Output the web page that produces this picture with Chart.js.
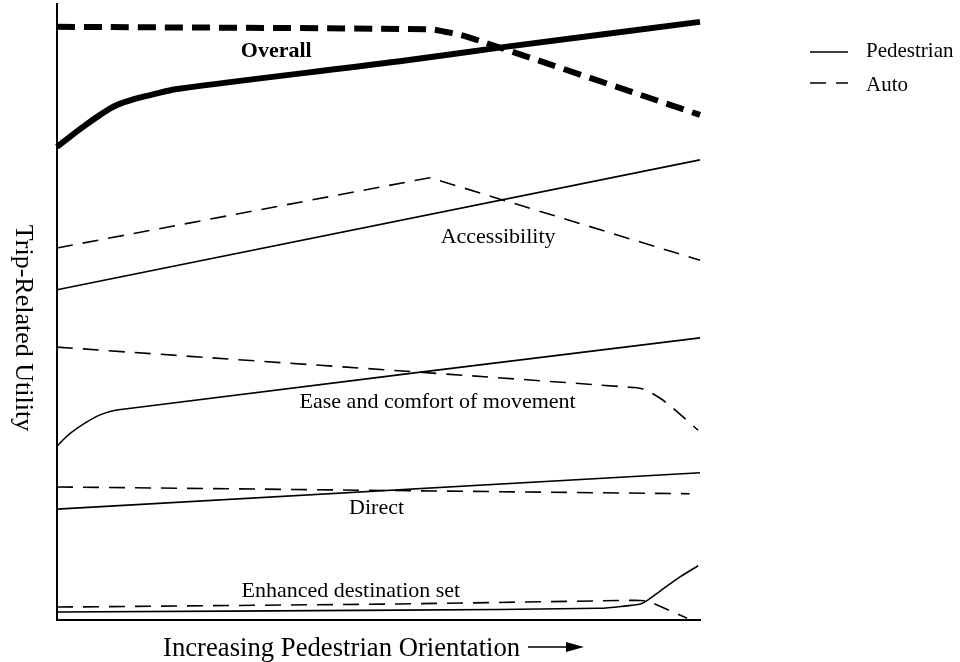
<!DOCTYPE html>
<html>
<head>
<meta charset="utf-8">
<script src="https://cdn.jsdelivr.net/npm/chart.js@4"></script>
<style>
  html, body { margin: 0; padding: 0; background: #fff; }
  #wrap { width: 960px; height: 662px; }
</style>
</head>
<body>
<div id="wrap"><canvas id="c" width="960" height="662"></canvas></div>
<script>
// ---- Data (x: pedestrian orientation 0-100, y: trip-related utility 0-100) ----
const overallPedX = [0, 1.6, 4.0, 6.7, 9.3, 12.1, 14.5, 18.7, 53.3, 69.4, 100];
const overallPedY = [76.8, 78.1, 80.0, 82.0, 83.6, 84.6, 85.2, 86.2, 90.7, 93.0, 97.1];
const overallAutoX = [0, 58.0, 60.3, 62.7, 65.8, 100];
const overallAutoY = [96.3, 95.9, 95.5, 95.0, 94.0, 82.0];

const accessPedX = [0, 100];
const accessPedY = [53.6, 74.7];
const accessAutoX = [0, 58.0, 100];
const accessAutoY = [60.4, 71.8, 58.4];

const easePedX = [0, 1.2, 2.3, 4.4, 6.7, 9.3, 100];
const easePedY = [28.2, 29.5, 30.5, 32.0, 33.3, 34.1, 45.8];
const easeAutoX = [0, 90.2, 91.8, 93.8, 95.8, 99.7];
const easeAutoY = [44.3, 37.7, 37.2, 36.0, 34.4, 30.8];

const directPedX = [0, 100];
const directPedY = [18.0, 23.9];
const directAutoX = [0, 98.4];
const directAutoY = [21.6, 20.5];

const enhPedX = [0, 53.3, 84.4, 88.6, 90.7, 91.7, 93.8, 96.9, 99.7];
const enhPedY = [1.3, 1.6, 1.9, 2.3, 2.6, 3.1, 4.7, 7.0, 8.8];
const enhAutoX = [0, 53.3, 89.9, 91.9, 98.0];
const enhAutoY = [2.1, 2.6, 3.2, 3.1, 0.3];

const groupNames = ['Overall', 'Accessibility', 'Ease and comfort of movement', 'Direct', 'Enhanced destination set'];
const legendNames = ['Pedestrian', 'Auto'];
const xTitle = 'Increasing Pedestrian Orientation';
const yTitle = 'Trip-Related Utility';

// ---- Build ----
function pts(xs, ys) { return xs.map((x, i) => ({ x: x, y: ys[i] })); }

const SERIF = '"Liberation Serif", "Times New Roman", Times, serif';
const thin = 1.6, thick = 6;
const thinDash = [16, 10], thickDash = [18, 9];

function ds(label, xs, ys, width, dash, tension) {
  return {
    label: label,
    data: pts(xs, ys),
    borderColor: '#000',
    backgroundColor: '#000',
    borderWidth: width,
    borderDash: dash || [],
    borderCapStyle: 'butt',
    borderJoinStyle: 'round',
    pointRadius: 0,
    pointHoverRadius: 0,
    fill: false,
    clip: false,
    tension: tension || 0
  };
}

const datasets = [
  ds('Overall Pedestrian', overallPedX, overallPedY, thick, null, 0.35),
  ds('Overall Auto', overallAutoX, overallAutoY, thick, thickDash, 0.3),
  ds('Accessibility Pedestrian', accessPedX, accessPedY, thin, null),
  ds('Accessibility Auto', accessAutoX, accessAutoY, thin, thinDash),
  ds('Ease Pedestrian', easePedX, easePedY, thin, null, 0.3),
  ds('Ease Auto', easeAutoX, easeAutoY, thin, thinDash, 0.3),
  ds('Direct Pedestrian', directPedX, directPedY, thin, null),
  ds('Direct Auto', directAutoX, directAutoY, thin, thinDash),
  ds('Enhanced Pedestrian', enhPedX, enhPedY, thin, null, 0.3),
  ds('Enhanced Auto', enhAutoX, enhAutoY, thin, thinDash)
];

// label anchor positions (data coordinates) – layout, not data
const labelAnchors = [
  { x: 34.1, y: 91.4, bold: true },
  { x: 68.6, y: 61.2 },
  { x: 59.2, y: 34.4 },
  { x: 49.7, y: 17.2 },
  { x: 45.7, y: 3.7 }
];

const decorPlugin = {
  id: 'decor',
  afterDatasetsDraw(chart) {
    const ctx = chart.ctx;
    const xs = chart.scales.x, ys = chart.scales.y;
    ctx.save();
    ctx.fillStyle = '#000';
    ctx.strokeStyle = '#000';
    // group labels
    ctx.textAlign = 'center';
    ctx.textBaseline = 'alphabetic';
    groupNames.forEach((name, i) => {
      const a = labelAnchors[i];
      ctx.font = (a.bold ? 'bold ' : '') + '22px ' + SERIF;
      ctx.fillText(name, xs.getPixelForValue(a.x), ys.getPixelForValue(a.y));
    });
    // legend
    ctx.font = '21px ' + SERIF;
    ctx.textAlign = 'left';
    ctx.lineWidth = 1.6;
    ctx.setLineDash([]);
    ctx.beginPath(); ctx.moveTo(810, 52); ctx.lineTo(848, 52); ctx.stroke();
    ctx.fillText(legendNames[0], 866, 57);
    ctx.beginPath(); ctx.moveTo(810, 83); ctx.lineTo(826, 83); ctx.moveTo(836, 83); ctx.lineTo(848, 83); ctx.stroke();
    ctx.fillText(legendNames[1], 866, 91);
    // x title with arrow
    ctx.font = '26.7px ' + SERIF;
    ctx.textAlign = 'left';
    ctx.fillText(xTitle, 163, 656);
    ctx.lineWidth = 1.6;
    ctx.beginPath(); ctx.moveTo(528, 647); ctx.lineTo(570, 647); ctx.stroke();
    ctx.beginPath(); ctx.moveTo(584, 647); ctx.lineTo(566, 642); ctx.lineTo(566, 652); ctx.closePath(); ctx.fill();
    // y title (rotated clockwise)
    ctx.translate(23, 328);
    ctx.rotate(Math.PI / 2);
    ctx.textAlign = 'center';
    ctx.textBaseline = 'middle';
    ctx.font = '26px ' + SERIF;
    ctx.fillText(yTitle, 0, 0);
    ctx.restore();
  }
};

new Chart(document.getElementById('c'), {
  type: 'line',
  data: { datasets: datasets },
  options: {
    responsive: false,
    animation: false,
    events: [],
    layout: { padding: { left: 57, right: 260, top: 4, bottom: 42 } },
    plugins: { legend: { display: false }, tooltip: { enabled: false }, title: { display: false } },
    scales: {
      x: {
        type: 'linear', min: 0, max: 100,
        ticks: { display: false },
        grid: { display: false, drawTicks: false },
        border: { display: true, color: '#000', width: 2 }
      },
      y: {
        type: 'linear', min: 0, max: 100,
        ticks: { display: false },
        grid: { display: false, drawTicks: false },
        border: { display: true, color: '#000', width: 2 }
      }
    }
  },
  plugins: [decorPlugin]
});
</script>
</body>
</html>
